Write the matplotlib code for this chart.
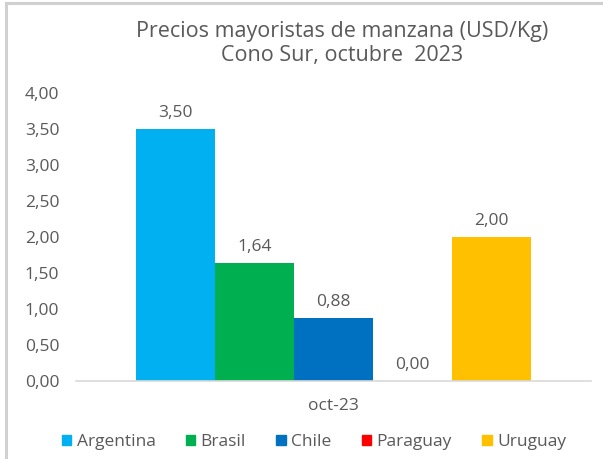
import matplotlib.pyplot as plt
from matplotlib.lines import Line2D
from matplotlib.patches import Patch

# data
countries = ['Argentina', 'Brasil', 'Chile', 'Paraguay', 'Uruguay']
prices = [3.50, 1.64, 0.88, 0.00, 2.00]
colors = ['#00B0F0', '#00B050', '#0070C0', '#FF0000', '#FFC000']
category = 'oct-23'
yticks = [0, 0.5, 1.0, 1.5, 2.0, 2.5, 3.0, 3.5, 4.0]

plt.rcParams['font.family'] = ['Open Sans', 'DejaVu Sans']
txt = '#595959'
fs = 12.5

W, H = 603, 459
fig = plt.figure(figsize=(W / 100, H / 100), dpi=100)

# axes placed in pixel terms: x 76..591, y(0)=381, y(4)=93
ax = fig.add_axes([76 / W, 1 - 381 / H, (591 - 76) / W, (381 - 93) / H])

bw = 79 / (591 - 76)  # bar width as fraction of category span
n = len(countries)
for i, (c, v, col) in enumerate(zip(countries, prices, colors)):
    x = 0.5 + (i - (n - 1) / 2) * bw
    ax.bar(x, v, width=bw, color=col, label=c)
    ax.text(x, v + 0.11, f'{v:.2f}'.replace('.', ','), ha='center', va='bottom',
            fontsize=fs, color=txt)

ax.set_xlim(0, 1)
ax.set_ylim(0, 4)
ax.set_yticks(yticks)
ax.set_yticklabels([f'{t:.2f}'.replace('.', ',') for t in yticks], fontsize=fs, color=txt)
ax.set_xticks([0.5])
ax.set_xticklabels([category], fontsize=fs, color=txt)
ax.tick_params(axis='y', length=0, pad=12)
ax.tick_params(axis='x', length=0, pad=12)
for s in ['top', 'right', 'left']:
    ax.spines[s].set_visible(False)
ax.spines['bottom'].set_color('#D9D9D9')
ax.spines['bottom'].set_linewidth(1.2)

fig.text(342 / W, 1 - 31 / H, 'Precios mayoristas de manzana (USD/Kg)', ha='center', va='center',
         fontsize=15.5, color=txt)
fig.text(342 / W, 1 - 56 / H, 'Cono Sur, octubre  2023', ha='center', va='center',
         fontsize=15.5, color=txt)

handles = [Patch(color=c) for c in colors]
fig.legend(handles, countries, loc='center', bbox_to_anchor=(314 / W, 1 - 442 / H), ncol=5,
           frameon=False, fontsize=fs, labelcolor=txt, handlelength=0.55, handleheight=0.55,
           handletextpad=0.3, columnspacing=1.75)

# gray frame on the left and top
fig.add_artist(Line2D([6 / W, 6 / W], [0, 1 - 3 / H], color='#D0D0D0', lw=2.2))
fig.add_artist(Line2D([6 / W, 1], [1 - 3 / H, 1 - 3 / H], color='#D0D0D0', lw=2.2))

fig.savefig('out.png', dpi=100)
